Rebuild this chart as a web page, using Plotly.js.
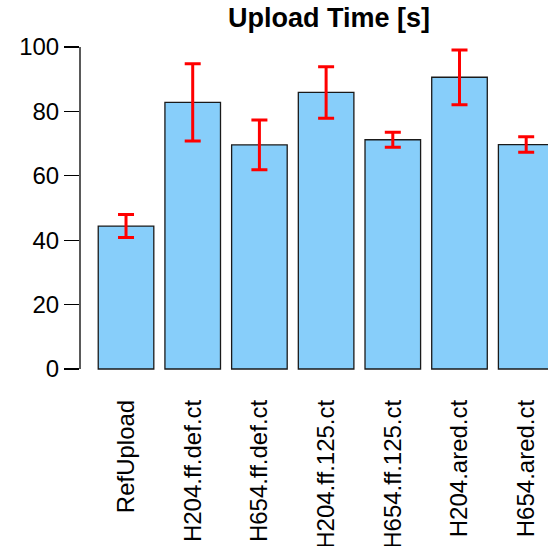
<!DOCTYPE html>
<html>
<head>
<meta charset="utf-8">
<script src="https://cdn.plot.ly/plotly-3.0.1.min.js"></script>
<style>html,body{margin:0;padding:0;background:#fff;}#chart{width:548px;height:546px;}</style>
</head>
<body>
<div id="chart"></div>
<script>
var categories = ["RefUpload", "H204.ff.def.ct", "H654.ff.def.ct", "H204.ff.125.ct", "H654.ff.125.ct", "H204.ared.ct", "H654.ared.ct"];
var uploadTime = [44.4, 82.8, 69.6, 85.9, 71.2, 90.6, 69.7];
var uploadErr = [3.6, 12.0, 7.7, 8.0, 2.3, 8.5, 2.4];
var yTickVals = [0, 20, 40, 60, 80, 100];
var yTickText = ["0", "20", "40", "60", "80", "100"];

var trace = {
  type: "bar",
  x: categories,
  y: uploadTime,
  width: 0.8333,
  marker: {color: "#87CEFA", line: {color: "#1a1a1a", width: 1.3}},
  error_y: {type: "data", array: uploadErr, visible: true, color: "#FF0000", thickness: 3, width: 8},
  hoverinfo: "none"
};

var layout = {
  width: 548, height: 546,
  margin: {l: 80, r: 0, t: 34, b: 164, pad: 0},
  paper_bgcolor: "#fff", plot_bgcolor: "#fff",
  font: {family: "Liberation Sans, Arial, Helvetica, sans-serif", color: "#000", size: 24},
  showlegend: false,
  title: {text: "<b>Upload Time [s]</b>", font: {size: 27, family: "Liberation Sans, Arial, sans-serif", color: "#000"},
          x: 329/548, xanchor: "center", xref: "container", y: 1 - 18/546, yanchor: "middle", yref: "container"},
  xaxis: {type: "category", range: [-0.690, 6.327], showgrid: false, zeroline: false, showline: false,
          ticks: "", tickangle: -90, tickfont: {size: 24}, automargin: false, ticklabelstandoff: 12},
  yaxis: {range: [-4.04, 104.04], showgrid: false, zeroline: false, showline: false,
          tickvals: yTickVals, ticktext: yTickText, ticks: "outside", ticklen: 15, tickwidth: 1.3, tickcolor: "#000",
          tickfont: {size: 24}, automargin: false},
  shapes: [{type: "line", xref: "paper", yref: "y", x0: 0, x1: 0, y0: 0, y1: 100, line: {color: "#000", width: 1.3}}]
};

Plotly.newPlot("chart", [trace], layout, {displayModeBar: false, staticPlot: true});
</script>
</body>
</html>
